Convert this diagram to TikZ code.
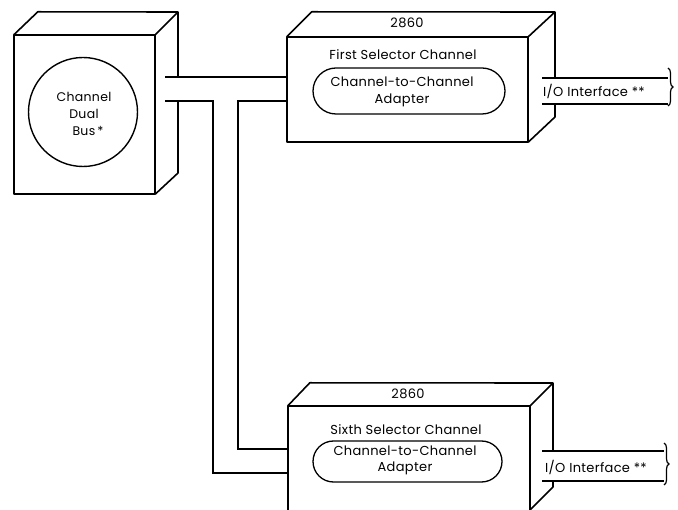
\documentclass[tikz,border=0pt]{standalone}
\usepackage{fontspec}
\setmainfont{Poppins}[LetterSpace=2.5]
\usetikzlibrary{shapes.misc,decorations.pathreplacing}
\begin{document}
\begin{tikzpicture}[x=1pt,y=-1pt,
  box/.style={line width=1.6pt, line join=round},
  face/.style={draw=none, rectangle, inner sep=0pt},
  bus/.style={line width=1.1pt},
  lbl/.style={font=\fontsize{13}{17}\selectfont, inner sep=0pt, align=center},
  adapter/.style={rounded rectangle, draw, line width=1.3pt, inner sep=0pt},
  brc/.style={decorate, decoration={brace, amplitude=5pt}, line width=1.2pt}]
\useasboundingbox (0,0) rectangle (678,510);

% ---- left box (Channel Dual Bus)
\node[face, minimum width=141pt, minimum height=159pt] (lb) at (84.5,114.5) {};
\draw[box] (lb.south west) rectangle (lb.north east);
\draw[box] (lb.north west) -- ++(24,-23) -- (178,12) -- (lb.north east);
\draw[box] (178,12) -- (178,77);
\draw[box] (178,101) -- (178,173) -- (lb.south east);
\node[circle, draw, line width=1.4pt, minimum size=109pt, inner sep=0pt] (cb) at (83,112) {};
\node[lbl, font=\fontsize{12.5}{16.6}\selectfont] (cbt) at (84,114) {Channel\\Dual\\\hspace*{8pt}Bus\,*};

% ---- first 2860
\node[face, minimum width=241pt, minimum height=105pt] (b1) at (407.5,89.5) {};
\draw[box] (b1.south west) rectangle (b1.north east);
\draw[box] (b1.north west) -- ++(25,-25) -- (555,12) -- (b1.north east);
\draw[box] (555,12) -- (555,78);
\draw[box] (555,104) -- (555,117) -- (b1.south east);
\node[lbl] (n1) at (407,23) {2860};
\node[lbl] (t1) at (403,55) {First Selector Channel};
\node[adapter, minimum width=192pt, minimum height=46pt] (a1) at (409,91) {};
\node[lbl] (a1t) at (402,92) {Channel-to-Channel\\Adapter};
\node[lbl] (io1) at (594,91) {I/O Interface **};
\coordinate (io1a) at (542,78);
\coordinate (io1b) at (542,104);
\coordinate (br1t) at (668,68);
\coordinate (br1b) at (668,106);
\draw[bus] (io1a) -- (io1a -| br1t);
\draw[bus] (io1b) -- (io1b -| br1t);
\draw[brc] (br1t) -- (br1b);

% ---- sixth 2860
\node[face, minimum width=242pt, minimum height=106pt] (b2) at (409,459) {};
\draw[box] (b2.south west) -- (b2.north west) -- (b2.north east) -- (b2.south east);
\draw[box] (b2.north west) -- ++(22,-23) -- (553,383) -- (b2.north east);
\draw[box] (553,383) -- (553,451);
\draw[box] (553,481) -- (553,487) -- (530,510);
\node[lbl] (n2) at (408,394) {2860};
\node[lbl] (t2) at (406,430) {Sixth Selector Channel};
\node[adapter, minimum width=189pt, minimum height=41pt] (a2) at (407.5,461.5) {};
\node[lbl, font=\fontsize{13}{16}\selectfont] (a2t) at (405,460) {Channel-to-Channel\\Adapter};
\node[lbl] (io2) at (596,467) {I/O Interface **};
\coordinate (io2a) at (542,451);
\coordinate (io2b) at (542,481);
\coordinate (br2t) at (664,443);
\coordinate (br2b) at (664,485);
\draw[bus] (io2a) -- (io2a -| br2t);
\draw[bus] (io2b) -- (io2b -| br2t);
\draw[brc] (br2t) -- (br2b);

% ---- dual bus connectors
\coordinate (bu) at (165,77);
\coordinate (bl) at (165,101);
\coordinate (to) at (213,101);
\coordinate (bo) at (213,473);
\coordinate (ti) at (238,101);
\coordinate (bi) at (238,449);
\draw[bus] (bu) -- (bu -| b1.west);
\draw[bus] (bl) -- (to) -- (bo) -- (bo -| b2.west);
\draw[bus] (b1.west |- bl) -- (ti) -- (bi) -- (bi -| b2.west);
\end{tikzpicture}
\end{document}
